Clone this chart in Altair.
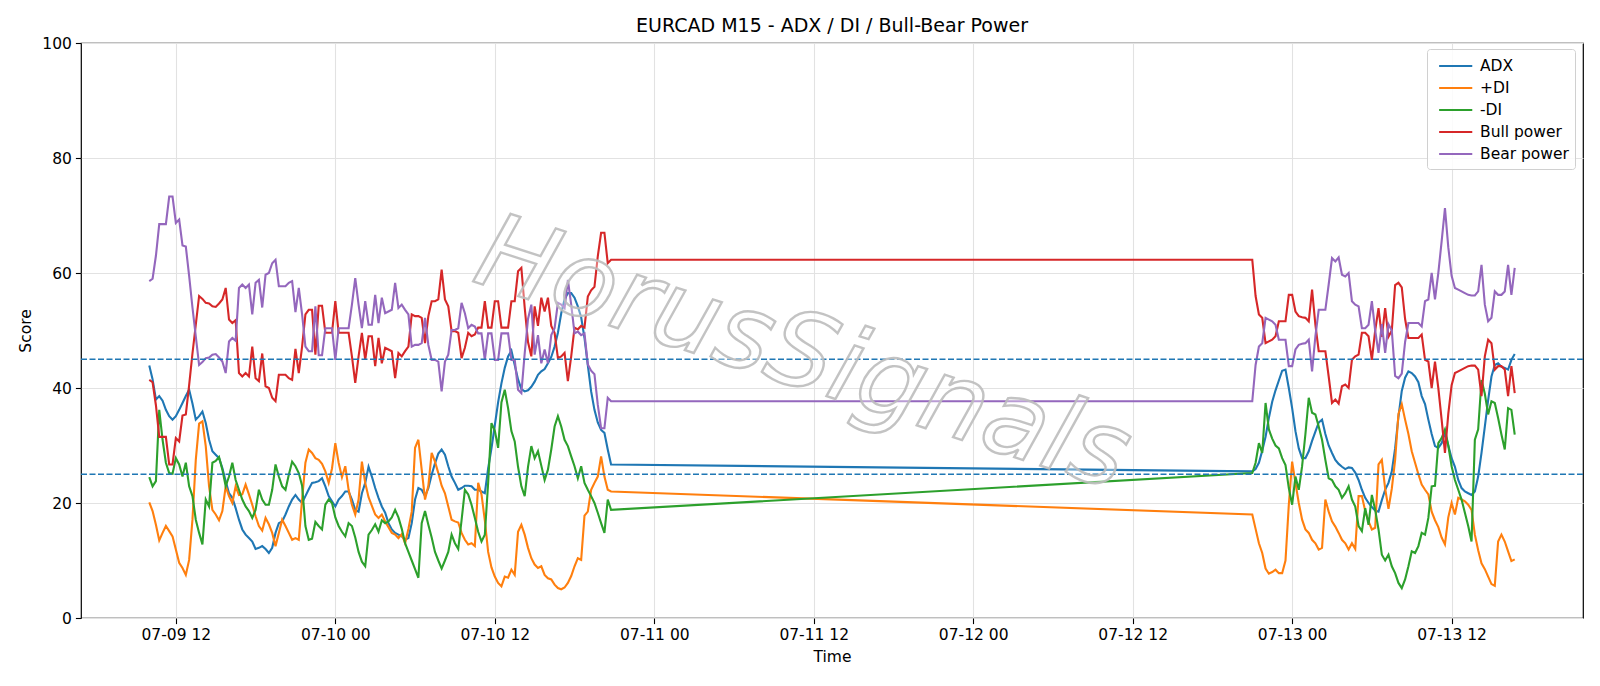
import altair as alt
import pandas as pd

# ---------------- data (M15 bars, two sessions) ----------------
# session 1 starts 2025-07-09 10:00 UTC (140 bars), session 2 starts 2025-07-12 21:00 UTC (80 bars)
SESSION1_START = "2025-07-09 10:00"
SESSION2_START = "2025-07-12 21:00"

adx_1 = [43.9, 41.5, 38.0, 38.6, 37.8, 36.2, 35.1, 34.5, 35.1, 36.2,
         37.4, 38.6, 39.7, 37.3, 34.5, 35.1, 35.9, 33.9, 31.0, 29.0,
         28.4, 27.8, 26.1, 23.8, 21.7, 20.9, 19.1, 17.1, 15.4, 14.5,
         13.9, 13.3, 12.0, 12.2, 12.5, 12.0, 11.3, 12.2, 14.8, 16.5,
         16.8, 18.0, 19.4, 20.6, 21.4, 20.6, 20.0, 21.2, 22.4, 23.5,
         23.6, 23.8, 24.3, 22.9, 21.2, 20.3, 19.4, 20.6, 21.2, 22.0,
         22.0, 20.6, 18.8, 18.5, 21.7, 23.5, 26.3, 24.6, 22.6, 20.9,
         19.4, 18.3, 16.5, 15.4, 14.8, 14.5, 14.2, 13.6, 13.9, 16.5,
         20.6, 22.6, 22.3, 21.2, 22.6, 24.9, 26.9, 28.6, 29.3, 28.4,
         26.4, 24.6, 23.5, 22.3, 22.6, 23.0, 23.0, 22.9, 22.3, 22.3,
         22.0, 21.7, 26.0, 29.5, 33.5, 37.5, 40.8, 43.5, 45.5, 46.5,
         44.0, 41.5, 39.8, 39.4, 39.6, 40.2, 41.1, 42.3, 42.9, 43.3,
         44.3, 45.4, 47.2, 49.6, 53.0, 55.4, 56.5, 56.5, 55.7, 54.2,
         52.3, 48.7, 44.0, 39.4, 36.2, 34.0, 32.7, 32.2, 29.3, 26.7]
adx_2 = [25.5, 25.9, 27.0, 29.1, 31.5, 34.8, 37.6, 39.6, 41.3, 43.0,
         43.2, 40.0, 36.5, 32.5, 29.5, 27.8, 27.8, 29.0, 30.8, 32.4,
         34.0, 34.5, 32.0, 30.0, 28.7, 27.5, 26.8, 26.3, 25.9, 26.2,
         26.1, 25.3, 24.0, 22.3, 20.9, 20.0, 19.3, 18.7, 18.5, 20.5,
         22.3, 23.5, 25.5, 29.5, 35.0, 39.5, 41.8, 42.9, 42.6, 42.0,
         41.0, 38.6, 37.2, 34.5, 32.0, 29.9, 29.6, 30.4, 32.2, 30.0,
         27.8, 26.3, 24.0, 22.6, 22.0, 21.7, 21.4, 22.0, 24.6, 28.7,
         33.3, 37.9, 42.0, 44.0, 44.3, 43.7, 43.5, 43.2, 44.9, 45.9]

pdi_1 = [20.1, 18.6, 16.2, 13.5, 14.8, 16.0, 15.1, 14.2, 11.9, 9.6,
         8.7, 7.5, 10.1, 17.1, 27.5, 33.8, 34.2, 29.9, 22.9, 18.8,
         18.0, 17.0, 18.6, 22.9, 21.2, 20.0, 22.9, 21.4, 21.5, 23.2,
         21.5, 19.7, 17.7, 16.0, 15.2, 17.4, 16.3, 14.8, 12.5, 14.8,
         17.1, 16.0, 14.8, 13.6, 13.9, 13.6, 20.6, 27.0, 29.3, 28.7,
         27.8, 27.5, 26.8, 25.5, 23.5, 26.0, 30.4, 27.0, 24.5, 26.4,
         22.3, 19.7, 18.0, 20.6, 27.2, 23.5, 21.0, 19.5, 18.0, 17.4,
         18.0, 16.8, 15.8, 14.8, 14.5, 13.9, 14.6, 13.0, 15.5, 18.5,
         29.6, 31.0, 25.8, 20.6, 23.0, 28.7, 27.2, 25.2, 23.0, 21.7,
         19.4, 17.1, 16.8, 16.6, 14.8, 13.6, 12.8, 13.0, 12.5, 23.5,
         21.5, 17.0, 11.5, 8.8, 7.2, 6.1, 5.5, 7.2, 7.0, 8.4,
         7.5, 15.0, 16.2, 14.5, 12.2, 10.4, 9.3, 8.7, 9.0, 7.5,
         6.9, 6.7, 5.8, 5.2, 5.0, 5.3, 6.1, 7.3, 9.0, 10.4,
         10.1, 17.8, 18.5, 22.3, 23.5, 24.6, 28.1, 24.6, 22.3, 22.0]
pdi_2 = [18.0, 15.5, 13.0, 11.3, 8.6, 7.7, 8.0, 8.4, 7.8, 7.8,
         10.0, 19.7, 27.2, 23.5, 20.0, 17.1, 15.4, 14.8, 13.6, 13.0,
         11.9, 12.2, 20.6, 18.5, 16.8, 15.9, 14.8, 13.6, 13.0, 11.9,
         13.0, 12.0, 21.2, 21.2, 18.6, 16.8, 15.4, 15.7, 26.7, 27.5,
         22.5, 19.0, 22.5, 27.5, 35.5, 37.2, 34.5, 32.0, 29.0, 27.0,
         25.0, 23.2, 22.3, 21.5, 18.5, 17.0, 15.8, 14.0, 12.8, 17.5,
         20.0, 18.0, 20.9, 20.6, 20.3, 19.7, 18.8, 14.5, 11.8, 9.5,
         8.5, 7.2, 5.9, 5.6, 13.3, 14.5, 13.3, 11.6, 9.9, 10.2]

mdi_1 = [24.5, 22.9, 23.8, 36.2, 31.0, 27.0, 25.2, 25.1, 27.8, 26.7,
         24.6, 27.0, 22.9, 21.2, 17.1, 14.8, 12.8, 20.6, 19.4, 27.0,
         27.3, 28.0, 25.8, 22.9, 24.6, 27.0, 24.0, 22.3, 20.6, 19.4,
         18.6, 17.4, 18.8, 22.3, 20.6, 19.7, 19.7, 22.3, 26.7, 24.6,
         22.9, 22.3, 24.9, 27.2, 26.4, 25.2, 23.0, 16.0, 13.6, 13.8,
         16.7, 16.0, 15.4, 19.7, 20.6, 20.0, 17.5, 16.0, 15.0, 14.2,
         16.5, 16.0, 14.0, 11.5, 9.8, 9.0, 14.5, 15.3, 16.3, 15.0,
         17.0, 16.5, 16.8, 17.5, 18.8, 17.5, 15.5, 13.0, 11.5, 10.0,
         8.5, 7.0, 16.5, 18.6, 16.2, 14.0, 11.5, 10.0, 8.6, 10.0,
         11.5, 14.5, 13.0, 12.0, 17.0, 22.3, 21.5, 19.7, 17.4, 15.0,
         13.3, 14.5, 23.5, 33.9, 32.6, 29.6, 37.5, 39.7, 36.5, 32.5,
         30.7, 26.3, 22.9, 21.2, 26.3, 29.9, 27.8, 29.0, 26.5, 24.0,
         25.8, 29.3, 33.3, 35.1, 33.3, 31.0, 29.9, 28.1, 26.4, 24.3,
         26.4, 23.5, 22.3, 21.2, 20.0, 18.3, 16.5, 14.8, 20.6, 18.8]
mdi_2 = [25.2, 27.0, 30.4, 28.7, 37.4, 32.8, 31.2, 30.0, 29.5, 27.8,
         26.6, 22.6, 19.7, 24.6, 22.3, 26.4, 32.0, 38.3, 35.7, 35.4,
         33.3, 31.0, 27.5, 24.3, 24.0, 22.9, 22.3, 20.9, 21.7, 22.9,
         20.6, 19.4, 16.0, 15.1, 19.1, 16.2, 21.4, 18.8, 15.4, 11.0,
         10.0, 11.0, 9.0, 7.8, 6.1, 5.2, 6.7, 9.0, 11.6, 11.3,
         12.5, 14.8, 14.5, 17.4, 22.9, 23.0, 30.4, 31.3, 32.8, 30.0,
         26.4, 24.0, 22.3, 20.6, 18.3, 16.0, 13.3, 31.0, 32.8, 41.4,
         39.0, 35.4, 37.7, 37.4, 34.8, 31.9, 29.3, 36.5, 36.2, 31.9]

bull_1 = [41.4, 41.0, 37.0, 31.5, 31.5, 31.5, 26.7, 26.7, 31.3, 30.7,
          35.2, 35.4, 40.5, 46.0, 51.0, 56.0, 55.5, 54.8, 54.7, 54.2,
          54.1, 54.7, 55.4, 57.4, 51.9, 51.3, 51.8, 42.6, 42.0, 42.6,
          42.0, 47.2, 41.7, 41.2, 46.0, 40.3, 40.0, 38.3, 37.7, 42.3,
          42.3, 42.3, 41.7, 41.4, 46.8, 42.6, 47.2, 52.8, 53.6, 53.6,
          45.8, 54.3, 54.3, 49.6, 49.6, 49.6, 55.1, 49.6, 49.6, 49.6,
          49.6, 45.5, 40.9, 45.5, 49.6, 44.9, 49.0, 49.0, 43.8, 48.7,
          44.3, 47.0, 46.7, 46.4, 41.7, 46.1, 45.5, 46.4, 47.2, 52.8,
          52.5, 52.5, 52.2, 47.8, 52.5, 55.1, 55.1, 55.4, 60.6, 55.4,
          54.2, 49.9, 49.9, 49.6, 45.2, 47.0, 49.6, 49.0, 49.3, 50.5,
          50.5, 55.1, 50.5, 50.5, 55.1, 55.1, 50.5, 50.5, 50.5, 55.1,
          55.1, 60.3, 60.9, 54.0, 48.0, 45.5, 54.2, 50.8, 55.7, 53.3,
          55.7, 50.8, 49.6, 45.2, 45.5, 46.1, 41.2, 45.5, 50.5, 50.2,
          50.8, 50.5, 55.9, 57.0, 57.6, 62.9, 67.0, 67.0, 61.7, 62.3]
bull_2 = [62.3, 56.0, 52.8, 52.2, 47.8, 48.1, 48.4, 49.0, 51.6, 51.6,
          51.6, 56.2, 56.2, 53.3, 52.5, 52.3, 52.2, 51.6, 57.1, 51.0,
          46.4, 46.4, 46.4, 42.0, 37.4, 38.0, 37.3, 40.3, 40.6, 40.0,
          44.9, 45.5, 45.8, 49.6, 49.6, 49.0, 44.9, 50.0, 53.9, 48.9,
          53.9, 48.9, 50.0, 57.9, 58.3, 57.5, 52.0, 48.7, 48.7, 48.7,
          48.7, 49.3, 44.9, 44.6, 40.0, 44.6, 40.0, 34.5, 28.7, 35.5,
          40.5, 42.6, 42.9, 43.2, 43.5, 43.8, 43.9, 43.9, 43.2, 38.6,
          45.5, 48.4, 47.8, 43.2, 43.8, 43.8, 43.2, 38.6, 43.8, 39.1]

bear_1 = [58.6, 59.0, 63.0, 68.5, 68.5, 68.5, 73.3, 73.3, 68.7, 69.3,
          64.8, 64.6, 59.5, 54.0, 49.0, 44.0, 44.5, 45.2, 45.3, 45.8,
          45.9, 45.3, 44.6, 42.6, 48.1, 48.7, 48.2, 57.4, 58.0, 57.4,
          58.0, 52.8, 58.3, 58.8, 54.0, 59.7, 60.0, 61.7, 62.3, 57.7,
          57.7, 57.7, 58.3, 58.6, 53.2, 57.4, 52.8, 47.2, 46.4, 46.4,
          54.2, 45.7, 45.7, 50.4, 50.4, 50.4, 44.9, 50.4, 50.4, 50.4,
          50.4, 54.5, 59.1, 54.5, 50.4, 55.1, 51.0, 51.0, 56.2, 51.3,
          55.7, 53.0, 53.3, 53.6, 58.3, 53.9, 54.5, 53.6, 52.8, 47.2,
          47.5, 47.5, 47.8, 52.2, 47.5, 44.9, 44.9, 44.6, 39.4, 44.6,
          45.8, 50.1, 50.1, 50.4, 54.8, 53.0, 50.4, 51.0, 50.7, 49.5,
          49.5, 44.9, 49.5, 49.5, 44.9, 44.9, 49.5, 49.5, 49.5, 44.9,
          44.9, 39.7, 39.1, 46.0, 52.0, 54.5, 45.8, 49.2, 44.3, 46.7,
          44.3, 49.2, 50.4, 54.8, 54.5, 53.9, 58.8, 54.5, 49.5, 49.8,
          49.2, 49.5, 44.1, 43.0, 42.4, 37.1, 33.0, 33.0, 38.3, 37.7]
bear_2 = [37.7, 44.0, 47.2, 47.8, 52.2, 51.9, 51.6, 51.0, 48.4, 48.4,
          48.4, 43.8, 43.8, 46.7, 47.5, 47.7, 47.8, 48.4, 42.9, 49.0,
          53.6, 53.6, 53.6, 58.0, 62.6, 62.0, 62.7, 59.7, 59.4, 60.0,
          55.1, 54.5, 54.2, 50.4, 50.4, 51.0, 55.1, 50.0, 46.1, 51.1,
          46.1, 51.1, 50.0, 42.1, 41.7, 42.5, 48.0, 51.3, 51.3, 51.3,
          51.3, 50.7, 55.1, 55.4, 60.0, 55.4, 60.0, 65.5, 71.3, 64.5,
          59.5, 57.4, 57.1, 56.8, 56.5, 56.2, 56.1, 56.1, 56.8, 61.4,
          54.5, 51.6, 52.2, 56.8, 56.2, 56.2, 56.8, 61.4, 56.2, 60.9]

SERIES = ["ADX", "+DI", "-DI", "Bull power", "Bear power"]
COLORS = ["#1f77b4", "#ff7f0e", "#2ca02c", "#d62728", "#9467bd"]
VALUES = {
    "ADX": (adx_1, adx_2),
    "+DI": (pdi_1, pdi_2),
    "-DI": (mdi_1, mdi_2),
    "Bull power": (bull_1, bull_2),
    "Bear power": (bear_1, bear_2),
}
THRESHOLDS = [45, 25]
Y_TICKS = [0, 20, 40, 60, 80, 100]
X_TICK_LABELS = ["07-09 12", "07-10 00", "07-10 12", "07-11 00", "07-11 12",
                 "07-12 00", "07-12 12", "07-13 00", "07-13 12"]


def stamps(start, n):
    base = pd.Timestamp(start)
    return [(base + pd.Timedelta(minutes=15 * k)).strftime("%Y-%m-%dT%H:%M:%SZ") for k in range(n)]


rows = []
for name in SERIES:
    a, b = VALUES[name]
    for t, v in zip(stamps(SESSION1_START, len(a)) + stamps(SESSION2_START, len(b)), a + b):
        rows.append({"time": t, "value": v, "series": name})
df = pd.DataFrame(rows)


def dt(day, h, m=0, s=0):
    return alt.DateTime(year=2025, month=7, date=day, hours=h, minutes=m, seconds=s, utc=True)


tick_values = []
for lab in X_TICK_LABELS:
    md, hh = lab.split(" ")
    tick_values.append(dt(int(md.split("-")[1]), int(hh)))

x_enc = alt.X(
    "time:T", title="Time",
    scale=alt.Scale(type="utc", domain=[dt(9, 4, 51, 45), dt(13, 21, 53, 15)]),
    axis=alt.Axis(values=tick_values, labelExpr="utcFormat(datum.value, '%m-%d %H')", labelFlush=False),
)
y_enc = alt.Y(
    "value:Q", title="Score",
    scale=alt.Scale(domain=[0, 100], nice=False, zero=False),
    axis=alt.Axis(values=Y_TICKS),
)
color_enc = alt.Color(
    "series:N",
    scale=alt.Scale(domain=SERIES, range=COLORS),
    legend=alt.Legend(
        title=None, orient="none", legendX=1346, legendY=6,
        fillColor="rgba(255,255,255,0.85)", strokeColor="#d0d0d0",
        padding=6, cornerRadius=3, symbolType="M-0.5,0H2.9", symbolStrokeWidth=2.2,
        symbolSize=380, labelFontSize=15.5, labelFont="DejaVu Sans", labelColor="#000",
        rowPadding=2, labelOffset=25,
    ),
)

layers = []
for name in SERIES:
    layers.append(
        alt.Chart(df).transform_filter(alt.datum.series == name)
        .mark_line(strokeWidth=2.1, clip=True)
        .encode(x=x_enc, y=y_enc, color=color_enc)
    )

rules = alt.Chart(pd.DataFrame({"y": THRESHOLDS})).mark_rule(
    color="#1f77b4", strokeDash=[6, 2.5], strokeWidth=1.6
).encode(y="y:Q")

wm = alt.Chart(pd.DataFrame({"time": ["2025-07-11T11:10:00Z"], "value": [45.6], "txt": ["HorusSignals"]})).mark_text(
    font="DejaVu Sans", fontStyle="italic", fontSize=104, angle=18, align="center", baseline="middle",
    fill="#ffffff", fillOpacity=0.35, stroke="#bdbdbd", strokeWidth=2.4, strokeOpacity=0.9,
).encode(x="time:T", y="value:Q", text="txt:N")

chart = alt.layer(*layers, rules, wm).properties(
    width=1502, height=575,
    title=alt.TitleParams("EURCAD M15 - ADX / DI / Bull-Bear Power", fontSize=19, font="DejaVu Sans",
                          fontWeight="normal", color="#000", anchor="middle", offset=0),
    autosize=alt.AutoSizeParams(type="none"),
    padding={"left": 81, "top": 43, "right": 17, "bottom": 68},
).configure_view(
    stroke="#000000", strokeWidth=1.2
).configure_axis(
    grid=True, gridColor="#e2e2e2", gridWidth=1.1, domain=False,
    tickColor="#000", tickSize=5.6, tickWidth=1.1,
    labelFont="DejaVu Sans", labelFontSize=15.5, labelColor="#000", labelPadding=4,
    titleFont="DejaVu Sans", titleFontSize=15.5, titleFontWeight="normal", titleColor="#000",
).configure_axisX(titlePadding=6).configure_axisY(titlePadding=8)

chart.save("out.html", embed_options={"renderer": "svg", "actions": False})
